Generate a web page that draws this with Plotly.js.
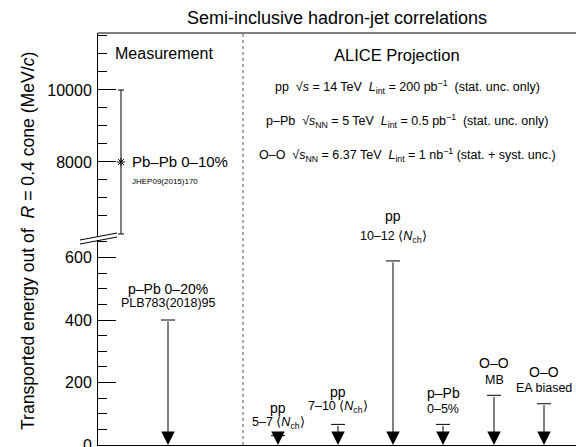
<!DOCTYPE html>
<html>
<head>
<meta charset="utf-8">
<script src="https://cdn.plot.ly/plotly-3.0.1.min.js"></script>
<style>html,body{margin:0;padding:0;background:#fff;}#chart{width:576px;height:447px;}</style>
</head>
<body>
<div id="chart"></div>
<script>
// ---- data ----
const measurementNames = ['Pb–Pb 0–10%', 'p–Pb 0–20%'];
const measurementRefs = ['JHEP09(2015)170', 'PLB783(2018)95'];
const measurementX = [2.3, 7.0];
const pbpbValue = [8000];
const pbpbError = [2000];
const ppbUpperLimit = [400];

const projectionSystems = ['pp', 'pp', 'pp', 'p–Pb', 'O–O', 'O–O'];
const projectionClasses = ['5–7 ⟨<i>N</i><sub>ch</sub>⟩', '7–10 ⟨<i>N</i><sub>ch</sub>⟩', '10–12 ⟨<i>N</i><sub>ch</sub>⟩', '0–5%', 'MB', 'EA biased'];
const projectionX = [18.0, 24.0, 29.5, 34.5, 39.6, 44.6];
const projectionLimits = [30, 66, 589, 66, 159, 132];

const projectionInfo = [
  'pp  √<i>s</i> = 14 TeV  <i>L</i><sub>int</sub> = 200 pb<sup>−1</sup>  (stat. unc. only)',
  'p–Pb  √<i>s</i><sub>NN</sub> = 5 TeV  <i>L</i><sub>int</sub> = 0.5 pb<sup>−1</sup>  (stat. unc. only)',
  'O–O  √<i>s</i><sub>NN</sub> = 6.37 TeV  <i>L</i><sub>int</sub> = 1 nb<sup>−1</sup> (stat. + syst. unc.)'
];

const lowerTicks = [0, 200, 400, 600];
const upperTicks = [8000, 10000];
const upperMinorTicks = [6500, 7000, 7500, 8500, 9000, 9500, 10500, 11000, 11500];

// ---- layout helpers ----
const FONT = 'Liberation Sans, Arial, Helvetica, sans-serif';
const L = 98, T = 33, B = 445, W = 478, H = 412;
const px = v => (v - L) / W;
const py = v => (B - v) / H;

const limitX = [measurementX[1]].concat(projectionX);
const limitY = ppbUpperLimit.concat(projectionLimits);

const traces = [
  {
    x: [measurementX[0]], y: pbpbValue, yaxis: 'y2', type: 'scatter', mode: 'markers',
    marker: {symbol: 'asterisk-open', size: 7, color: 'black', line: {width: 1, color: 'black'}},
    error_y: {type: 'data', array: pbpbError, color: 'black', thickness: 1, width: 3},
    cliponaxis: false, hoverinfo: 'skip'
  },
  {
    x: limitX, y: limitY, yaxis: 'y', type: 'scatter', mode: 'markers',
    marker: {symbol: 'line-ew-open', size: 10, color: 'black', line: {width: 1, color: 'black'}},
    cliponaxis: false, hoverinfo: 'skip'
  }
];

const annotations = [];
// arrows for upper limits
limitX.forEach((x, i) => {
  annotations.push({
    x: x, y: 0, ax: x, ay: limitY[i], xref: 'x', yref: 'y', axref: 'x', ayref: 'y',
    text: '', showarrow: true, arrowhead: 2, arrowsize: 2.7, arrowwidth: 1, arrowcolor: 'black'
  });
});

// measurement labels
annotations.push({x: measurementX[0], y: pbpbValue[0], xref: 'x', yref: 'y2', xanchor: 'left', yanchor: 'middle',
  xshift: 9, text: measurementNames[0], showarrow: false, font: {size: 15}});
annotations.push({x: measurementX[0], y: pbpbValue[0], xref: 'x', yref: 'y2', xanchor: 'left', yanchor: 'middle',
  xshift: 9, yshift: -20, text: measurementRefs[0], showarrow: false, font: {size: 8}});
annotations.push({x: measurementX[1], y: ppbUpperLimit[0], xref: 'x', yref: 'y', xanchor: 'center', yanchor: 'middle',
  yshift: 31, text: measurementNames[1], showarrow: false, font: {size: 14}});
annotations.push({x: measurementX[1], y: ppbUpperLimit[0], xref: 'x', yref: 'y', xanchor: 'center', yanchor: 'middle',
  yshift: 17, text: measurementRefs[1], showarrow: false, font: {size: 12.5}});

// projection labels
const topShift = [33, 32, 45, 31, 32, 32];
const subShift = [18, 17, 24, 15, 15, 16];
projectionX.forEach((x, i) => {
  const base = i === 0 ? 0 : projectionLimits[i];
  annotations.push({x: x, y: projectionLimits[i], xref: 'x', yref: 'y', xanchor: 'center', yanchor: 'middle',
    yshift: topShift[i] - (i === 0 ? 5 : 0), text: projectionSystems[i], showarrow: false, font: {size: 14}});
  annotations.push({x: x, y: projectionLimits[i], xref: 'x', yref: 'y', xanchor: 'center', yanchor: 'middle',
    yshift: subShift[i] - (i === 0 ? 5 : 0), text: projectionClasses[i], showarrow: false, font: {size: 12.5}});
});

// headers
annotations.push({x: px(113), y: py(54), xref: 'paper', yref: 'paper', xanchor: 'left', yanchor: 'middle',
  text: 'Measurement', showarrow: false, font: {size: 16}});
annotations.push({x: px(397), y: py(55), xref: 'paper', yref: 'paper', xanchor: 'center', yanchor: 'middle',
  text: 'ALICE Projection', showarrow: false, font: {size: 16.5}});
[87, 121, 155].forEach((yy, i) => {
  annotations.push({x: px(407), y: py(yy), xref: 'paper', yref: 'paper', xanchor: 'center', yanchor: 'middle',
    text: projectionInfo[i], showarrow: false, font: {size: 12.5}});
});

// y title
annotations.push({x: px(28), y: py(241), xref: 'paper', yref: 'paper', xanchor: 'center', yanchor: 'middle',
  textangle: -90, text: 'Transported energy out of  <i>R</i> = 0.4 cone (MeV/<i>c</i>)', showarrow: false, font: {size: 17.6}});

const shapes = [
  {type: 'line', xref: 'paper', yref: 'paper', x0: 0, x1: 1, y0: 1, y1: 1, line: {color: 'black', width: 1}},
  {type: 'line', xref: 'x', yref: 'paper', x0: 14.5, x1: 14.5, y0: 0, y1: 1, line: {color: '#555', width: 1, dash: 'dot'}},
  // axis break
  {type: 'path', xref: 'paper', yref: 'paper', layer: 'above',
    path: `M ${px(80)} ${py(240)} L ${px(117)} ${py(233)} L ${px(117)} ${py(237)} L ${px(80)} ${py(244)} Z`,
    fillcolor: 'white', line: {width: 0}},
  {type: 'line', xref: 'paper', yref: 'paper', layer: 'above', x0: px(80), y0: py(240), x1: px(117), y1: py(233), line: {color: 'black', width: 1}},
  {type: 'line', xref: 'paper', yref: 'paper', layer: 'above', x0: px(80), y0: py(244), x1: px(117), y1: py(237), line: {color: 'black', width: 1}}
];

const yCommon = {
  ticks: 'inside', ticklen: 18, tickwidth: 1, tickcolor: 'black', tickformat: 'd',
  showline: true, linecolor: 'black', linewidth: 1, showgrid: false, zeroline: false,
  tickfont: {size: 16, color: 'black'}, ticklabelstandoff: 2, ticklabeloverflow: 'allow',
  anchor: 'x', fixedrange: true, tickmode: 'array'
};

const layout = {
  width: 576, height: 447,
  margin: {l: L, r: 0, t: T, b: 447 - B, pad: 0},
  paper_bgcolor: 'white', plot_bgcolor: 'white',
  showlegend: false,
  font: {family: FONT, color: 'black'},
  title: {text: 'Semi-inclusive hadron-jet correlations', font: {size: 18, color: 'black'},
    x: (L + W / 2) / 576, xref: 'container', xanchor: 'center', y: 1 - 17.5 / 447, yanchor: 'middle'},
  xaxis: {range: [0, 47.8], showline: true, linecolor: 'black', linewidth: 1, showticklabels: false,
    ticks: '', showgrid: false, zeroline: false, anchor: 'y', fixedrange: true},
  yaxis: Object.assign({}, yCommon, {domain: [0, 207 / H], range: [0, 207 / 0.3125], tickvals: lowerTicks,
    minor: {ticks: 'inside', ticklen: 9, dtick: 50, tick0: 0, tickcolor: 'black', tickwidth: 1, showgrid: false}}),
  yaxis2: Object.assign({}, yCommon, {domain: [(B - 236) / H, 1], range: [5944, 11583], tickvals: upperTicks,
    minor: {ticks: 'inside', ticklen: 9, tickmode: 'array', tickvals: upperMinorTicks, tickcolor: 'black', tickwidth: 1, showgrid: false}}),
  annotations: annotations,
  shapes: shapes
};

Plotly.newPlot('chart', traces, layout, {displayModeBar: false, staticPlot: true});
</script>
</body>
</html>
